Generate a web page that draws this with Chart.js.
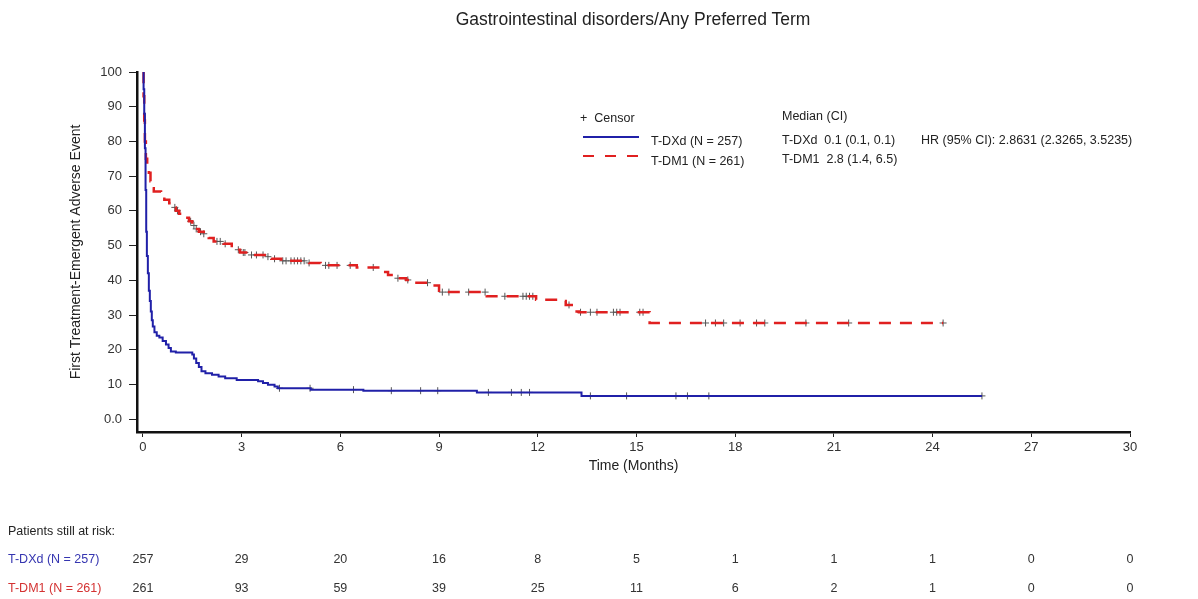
<!DOCTYPE html>
<html>
<head>
<meta charset="utf-8">
<script src="https://cdn.jsdelivr.net/npm/chart.js@4.4.1/dist/chart.umd.min.js"></script>
<style>
    html, body { margin: 0; padding: 0; background: #fff; }
    body { font-family: "Liberation Sans", Arial, sans-serif; color: #222; }
    #wrap { position: relative; width: 1198px; height: 599px; overflow: hidden; }
    #km { position: absolute; left: 0; top: 0; }
    .txt { position: absolute; white-space: nowrap; font-size: 12.5px; line-height: 14px; }
    .title { font-size: 17.5px; line-height: 20px; transform: translateX(-50%); }
    .num { transform: translateX(-50%); color: #333; }
    .blue { color: #3535b0; }
    .red { color: #d43232; }
    svg.sample { position: absolute; }
</style>
</head>
<body>
<div id="wrap">
    <canvas id="km" width="1198" height="599"></canvas>
    <div class="txt title" style="left:633px;top:9px">Gastrointestinal disorders/Any Preferred Term</div>

    <div class="txt" style="left:580px;top:111px">+&nbsp;&nbsp;Censor</div>
    <svg class="sample" style="left:583px;top:132px" width="56" height="10">
        <line x1="0" y1="5" x2="56" y2="5" stroke="#2020a8" stroke-width="2"/>
    </svg>
    <div class="txt" style="left:651px;top:134px">T-DXd (N = 257)</div>
    <svg class="sample" style="left:583px;top:151px" width="56" height="10">
        <line x1="0" y1="5" x2="56" y2="5" stroke="#e02020" stroke-width="2" stroke-dasharray="11 11"/>
    </svg>
    <div class="txt" style="left:651px;top:154px">T-DM1 (N = 261)</div>

    <div class="txt" style="left:782px;top:109px">Median (CI)</div>
    <div class="txt" style="left:782px;top:133px">T-DXd&nbsp;&nbsp;0.1 (0.1, 0.1)</div>
    <div class="txt" style="left:921px;top:133px">HR (95% CI): 2.8631 (2.3265, 3.5235)</div>
    <div class="txt" style="left:782px;top:152px">T-DM1&nbsp;&nbsp;2.8 (1.4, 6.5)</div>

    <div class="txt" style="left:8px;top:524px">Patients still at risk:</div>
    <div class="txt blue" style="left:8px;top:552px">T-DXd (N = 257)</div>
    <div class="txt red" style="left:8px;top:581px">T-DM1 (N = 261)</div>
    <div id="risk"></div>
</div>
<script>
// Kaplan-Meier adımları (ay, % olaysız)
const dxdTimes = [0, 0.02, 0.04, 0.06, 0.08, 0.1, 0.12, 0.15, 0.18, 0.21, 0.24, 0.27, 0.3, 0.35, 0.42,
    0.5, 0.6, 0.7, 0.78, 0.85, 1.0, 1.5, 1.55, 1.62, 1.7, 1.78, 1.9, 2.1, 2.3, 2.5, 2.85, 3.5, 3.65,
    3.8, 4.0, 4.1, 5.1, 6.7, 10.15, 13.33, 25.5];
const dxdSurv = [100, 95, 88, 78, 66, 54, 47, 42, 37, 34, 31, 28.5, 26.7, 25, 24,
    23.5, 22.5, 21.5, 20.5, 19.5, 19.2, 18.6, 17.5, 16.2, 15, 13.8, 13.2, 12.8, 12.3, 11.8, 11.3, 10.9, 10.4,
    9.9, 9.4, 8.9, 8.5, 8.2, 7.7, 6.7, 6.7];

const dm1Times = [0, 0.02, 0.04, 0.06, 0.09, 0.13, 0.18, 0.23, 0.28, 0.33, 0.55, 0.65, 0.8, 0.92, 1.0,
    1.1, 1.3, 1.4, 1.5, 1.6, 1.7, 1.85, 2.0, 2.15, 2.45, 2.7, 2.85, 2.95, 3.2, 3.75, 3.9, 4.2, 5.05,
    5.4, 6.5, 7.3, 7.45, 7.7, 8.0, 8.15, 8.7, 9.0, 10.45, 11.95, 12.7, 12.85, 13.1, 13.25, 15.4, 24.32];
const dm1Surv = [100, 93, 86, 80, 75, 73, 71, 68.5, 66.5, 65.6, 64.5, 63.2, 62.2, 61, 60,
    59.2, 58, 57, 55.8, 54.8, 54, 53.4, 52.2, 51.2, 50.5, 49.5, 48.8, 48, 47.3, 46.8, 46.2, 45.6, 45,
    44.3, 43.7, 42.4, 41.5, 40.6, 40.1, 39.3, 38.5, 36.6, 35.4, 34.4, 34, 32.9, 31, 30.8, 27.7, 27.7];

// Sansürlenen gözlemler (ay)
const dxdCensor = [4.15, 5.08, 6.4, 7.55, 8.44, 8.96, 10.5, 11.2, 11.5, 11.75, 13.6, 14.7, 16.2, 16.55, 17.2, 25.5];
const dm1Censor = [0.97, 1.05, 1.45, 1.55, 1.62, 1.75, 1.85, 2.25, 2.35, 2.5, 2.9, 3.05, 3.1, 3.3, 3.45,
    3.65, 3.8, 4.0, 4.25, 4.35, 4.5, 4.6, 4.7, 4.8, 4.9, 5.05, 5.55, 5.65, 5.9, 6.3, 7.0, 7.75, 8.05,
    8.65, 9.1, 9.3, 9.9, 10.4, 11.0, 11.55, 11.65, 11.75, 11.85, 12.95, 13.3, 13.6, 13.8, 14.3, 14.4,
    14.5, 15.1, 15.2, 17.1, 17.4, 17.65, 18.15, 18.65, 18.9, 20.15, 21.45, 24.32];

// Risk tablosu
const riskTimes = [0, 3, 6, 9, 12, 15, 18, 21, 24, 27, 30];
const riskDxd = [257, 29, 20, 16, 8, 5, 1, 1, 1, 0, 0];
const riskDm1 = [261, 93, 59, 39, 25, 11, 6, 2, 1, 0, 0];

const xTicks = [0, 3, 6, 9, 12, 15, 18, 21, 24, 27, 30];
const yTicks = [0, 10, 20, 30, 40, 50, 60, 70, 80, 90, 100];

function survAt(times, surv, t) {
    let v = surv[0];
    for (let i = 0; i < times.length; i++) {
        if (times[i] <= t) v = surv[i];
    }
    return v;
}

const toPoints = (times, surv) => times.map((t, i) => ({ x: t, y: surv[i] }));
const censorPoints = (cens, times, surv) => cens.map((t) => ({ x: t, y: survAt(times, surv, t) }));

const censorStyle = {
    type: "scatter",
    pointStyle: "cross",
    pointRadius: 3.5,
    borderColor: "#555",
    backgroundColor: "#555",
    borderWidth: 1,
    showLine: false
};

const ctx = document.getElementById("km").getContext("2d");
const chart = new Chart(ctx, {
    type: "line",
    data: {
        datasets: [
            {
                label: "T-DXd (N = 257)",
                data: toPoints(dxdTimes, dxdSurv),
                borderColor: "#2020a8",
                borderWidth: 2,
                stepped: "before",
                pointRadius: 0,
                fill: false
            },
            {
                label: "T-DM1 (N = 261)",
                data: toPoints(dm1Times, dm1Surv),
                borderColor: "#e02020",
                borderWidth: 2.5,
                borderDash: [12, 9],
                stepped: "before",
                pointRadius: 0,
                fill: false
            },
            { label: "Censor DXd", data: censorPoints(dxdCensor, dxdTimes, dxdSurv), ...censorStyle },
            { label: "Censor DM1", data: censorPoints(dm1Censor, dm1Times, dm1Surv), ...censorStyle }
        ]
    },
    options: {
        responsive: false,
        animation: false,
        layout: { padding: { left: 64, right: 68, top: 72, bottom: 122 } },
        plugins: {
            legend: { display: false },
            tooltip: { enabled: false }
        },
        scales: {
            x: {
                type: "linear",
                min: -0.18,
                max: 30,
                afterBuildTicks: (s) => { s.ticks = xTicks.map((v) => ({ value: v })); },
                afterFit: (s) => { s.height = 45; },
                ticks: { font: { family: "Liberation Sans", size: 13 }, color: "#333", padding: 3, maxRotation: 0, autoSkip: false },
                grid: { drawOnChartArea: false, drawTicks: true, tickLength: 5, color: "#222" },
                border: { color: "#111", width: 2.5 },
                title: { display: true, text: "Time (Months)", font: { family: "Liberation Sans", size: 14 }, color: "#222", padding: { top: 2, bottom: 2 } }
            },
            y: {
                type: "linear",
                min: -3.7,
                max: 100,
                afterBuildTicks: (s) => { s.ticks = yTicks.map((v) => ({ value: v })); },
                afterFit: (s) => { s.width = 73; },
                ticks: {
                    font: { family: "Liberation Sans", size: 13 },
                    color: "#333",
                    padding: 7,
                    callback: (v) => (v === 0 ? "0.0" : v)
                },
                grid: { drawOnChartArea: false, drawTicks: true, tickLength: 8, color: "#222" },
                border: { color: "#111", width: 2.5 },
                title: { display: true, text: "First Treatment-Emergent Adverse Event", font: { family: "Liberation Sans", size: 14 }, color: "#222" }
            }
        }
    }
});

// Risk tablosu sayıları x eksenine hizalanır
const riskEl = document.getElementById("risk");
riskTimes.forEach((t, i) => {
    const px = chart.scales.x.getPixelForValue(t);
    riskEl.insertAdjacentHTML("beforeend",
        `<div class="txt num" style="left:${px}px;top:552px">${riskDxd[i]}</div>` +
        `<div class="txt num" style="left:${px}px;top:581px">${riskDm1[i]}</div>`);
});
</script>
</body>
</html>
